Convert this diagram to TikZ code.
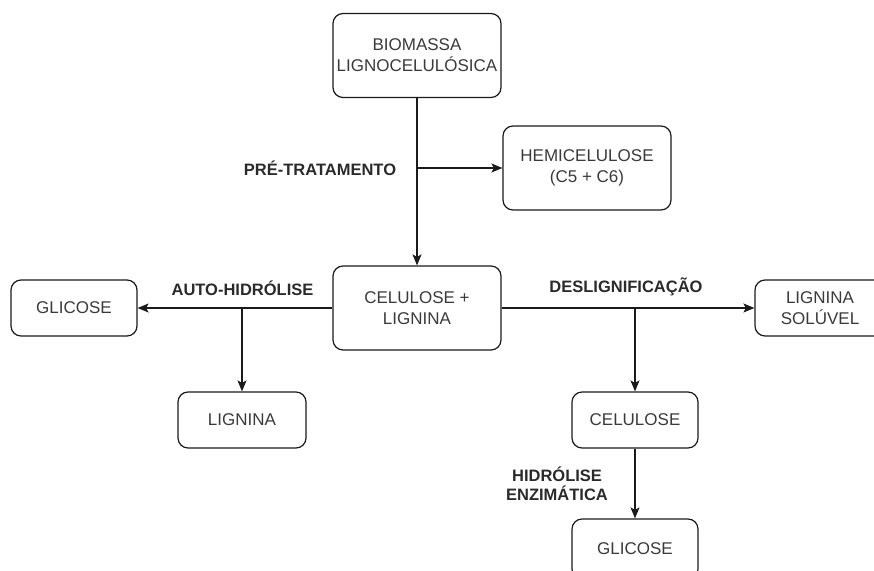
\documentclass[tikz,border=0pt]{standalone}
\usepackage{fontspec}
\setmainfont{Liberation Sans}
\usetikzlibrary{arrows.meta}
\definecolor{txt}{HTML}{3A3A3A}
\definecolor{lbltxt}{HTML}{2A2A2A}
\definecolor{ln}{HTML}{1A1A1A}
\tikzset{
  box/.style={draw=ln, line width=1.2pt, rounded corners=10pt, align=center,
    text=txt, inner sep=0pt, font=\fontsize{17}{21}\selectfont},
  bigbox/.style={box, minimum width=168pt, minimum height=84pt},
  smallbox/.style={box, minimum width=126pt, minimum height=56pt},
  arr/.style={draw=ln, line width=1.2pt, -{Stealth[length=11pt,width=9pt,inset=2.5pt]}},
  lbl/.style={font=\bfseries\fontsize{16.5}{19}\selectfont, text=lbltxt, align=center, inner sep=0pt}
}
\begin{document}
\begin{tikzpicture}[x=1pt,y=-1pt]
\useasboundingbox (0,0) rectangle (874,570);
\clip (0,0) rectangle (874,570);
\node[bigbox] (bio) at (417,55.5) {BIOMASSA\\LIGNOCELULÓSICA};
\node[bigbox] (hemi) at (587,168) {HEMICELULOSE\\(C5 + C6)};
\node[bigbox] (cl) at (417,308) {CELULOSE +\\LIGNINA};
\node[smallbox] (gl1) at (74,308) {GLICOSE};
\node[smallbox, minimum width=128pt] (lig) at (242,420) {LIGNINA};
\node[smallbox, minimum width=130pt] (ls) at (820,308) {LIGNINA\\SOLÚVEL};
\node[smallbox] (cel) at (635,420) {CELULOSE};
\node[smallbox, minimum height=60pt] (gl2) at (635,549) {GLICOSE};
\coordinate (j1) at (417,168);
\coordinate (j2) at (242,308);
\coordinate (j3) at (635,308);
\draw[arr] (bio) -- (cl);
\draw[arr] (j1) -- (hemi);
\draw[arr] (cl) -- (gl1);
\draw[arr] (j2) -- (lig);
\draw[arr] (cl) -- (ls);
\draw[arr] (j3) -- (cel);
\draw[arr] (cel) -- (gl2);
\node[lbl] (l1) at (320,168) {PRÉ-TRATAMENTO};
\node[lbl] (l2) at (242.5,288) {AUTO-HIDRÓLISE};
\node[lbl] (l3) at (626,287) {DESLIGNIFICAÇÃO};
\node[lbl] (l4) at (557,484) {HIDRÓLISE\\ENZIMÁTICA};
\end{tikzpicture}
\end{document}
